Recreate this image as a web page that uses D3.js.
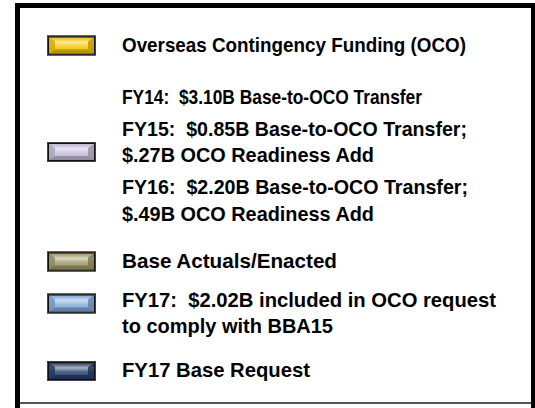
<!DOCTYPE html>
<html>
<head>
<meta charset="utf-8">
<script src="https://cdn.jsdelivr.net/npm/d3@7"></script>
<style>
  html, body { margin: 0; padding: 0; background: #fff; }
  svg { display: block; }
  text { font-family: "Liberation Sans", Arial, sans-serif; font-weight: bold; white-space: pre; }
</style>
</head>
<body>
<div id="chart"></div>
<script>
// legend entries, one group per swatch
var groupNames = ['oco', 'transfers', 'base', 'bba15', 'baseRequest'];
var groupColors = ['#f4c800', '#c6bedb', '#a29b66', '#84acdc', '#22406b'];
var groupLabels = [
    [['Overseas Contingency Funding (OCO)']],
    [['FY14:  $3.10B Base-to-OCO Transfer'],
     ['FY15:  $0.85B Base-to-OCO Transfer;', '$.27B OCO Readiness Add'],
     ['FY16:  $2.20B Base-to-OCO Transfer;', '$.49B OCO Readiness Add']],
    [['Base Actuals/Enacted']],
    [['FY17:  $2.02B included in OCO request', 'to comply with BBA15']],
    [['FY17 Base Request']]
];

// set width of each printed line (px), in reading order
var lineWidths = [344, 300, 345, 252, 346, 252, 215, 374, 211, 188];

var attrs = {
    svgWidth: 535,
    svgHeight: 408,
    textX: 122,
    swatchX: 47,
    swatchW: 49,
    swatchH: 20,
    fontSize: 20.5,
    lineH: 26.5,
    paraGap: 5.5,
    firstBaseline: 51.5,
    groupGaps: [0, 52, 47, 39, 44]
};

var svg = d3.select('#chart').append('svg')
    .attr('width', attrs.svgWidth)
    .attr('height', attrs.svgHeight);

var defs = svg.append('defs');

// frame
svg.append('rect').attr('x', 15).attr('y', 3).attr('width', 520).attr('height', 5).attr('fill', '#000');
svg.append('rect').attr('x', 15).attr('y', 3).attr('width', 5).attr('height', 405).attr('fill', '#000');
svg.append('rect').attr('x', 531).attr('y', 3).attr('width', 4).attr('height', 405).attr('fill', '#000');
svg.append('rect').attr('x', 20).attr('y', 402).attr('width', 511).attr('height', 2).attr('fill', '#555');

// lay out lines
var rows = [];
var swatchCenters = [];
var y = attrs.firstBaseline;
groupLabels.forEach(function (paras, gi) {
    y += attrs.groupGaps[gi];
    var first = y, last = y, nLines = 0;
    paras.forEach(function (lines, pi) {
        if (pi > 0) y += attrs.lineH + attrs.paraGap;
        lines.forEach(function (line, li) {
            if (li > 0) y += attrs.lineH;
            rows.push({ text: line, y: y, group: gi });
            last = y;
            nLines++;
        });
    });
    var c;
    if (paras.length > 1) c = (first + last) / 2 - 10;
    else if (nLines > 1) c = first - 3;
    else c = first - 6;
    swatchCenters.push(c);
});

svg.append('g').selectAll('text')
    .data(rows)
    .enter()
    .append('text')
    .attr('x', attrs.textX)
    .attr('y', function (d) { return d.y; })
    .attr('font-size', attrs.fontSize)
    .attr('fill', '#000')
    .attr('textLength', function (d, i) { return lineWidths[i]; })
    .attr('lengthAdjust', 'spacingAndGlyphs')
    .text(function (d) { return d.text; });

// bevelled swatches
function shade(c, k) {
    return k > 0 ? d3.interpolateRgb(c, '#fff')(k) : d3.interpolateRgb(c, '#000')(-k);
}

groupColors.forEach(function (c, i) {
    var g = defs.append('linearGradient').attr('id', 'grad' + i)
        .attr('x1', 0).attr('y1', 0).attr('x2', 0).attr('y2', 1);
    g.append('stop').attr('offset', '0%').attr('stop-color', shade(c, -0.05));
    g.append('stop').attr('offset', '30%').attr('stop-color', shade(c, 0.6));
    g.append('stop').attr('offset', '55%').attr('stop-color', shade(c, 0.2));
    g.append('stop').attr('offset', '100%').attr('stop-color', shade(c, -0.1));
});

var sw = svg.append('g').selectAll('g')
    .data(groupColors)
    .enter()
    .append('g')
    .attr('transform', function (d, i) {
        return 'translate(' + attrs.swatchX + ',' + (swatchCenters[i] - attrs.swatchH / 2) + ')';
    });

var W = attrs.swatchW, H = attrs.swatchH, b = 2, bx = 6, by = 4;

sw.append('rect')
    .attr('width', W).attr('height', H)
    .attr('fill', '#111');

sw.append('rect')
    .attr('x', b).attr('y', b).attr('width', W - 2 * b).attr('height', H - 2 * b)
    .attr('fill', function (d, i) { return 'url(#grad' + i + ')'; });

// bevel sides
sw.append('polygon')
    .attr('points', [[b, b], [b + bx, b + by], [b + bx, H - b - by], [b, H - b]].join(' '))
    .attr('fill', function (d) { return shade(d, -0.15); })
    .attr('opacity', 0.8);
sw.append('polygon')
    .attr('points', [[W - b, b], [W - b - bx, b + by], [W - b - bx, H - b - by], [W - b, H - b]].join(' '))
    .attr('fill', function (d) { return shade(d, -0.25); })
    .attr('opacity', 0.8);
sw.append('polygon')
    .attr('points', [[b, H - b], [b + bx, H - b - by], [W - b - bx, H - b - by], [W - b, H - b]].join(' '))
    .attr('fill', function (d) { return shade(d, -0.3); })
    .attr('opacity', 0.8);
sw.append('rect')
    .attr('x', 0.5).attr('y', 0.5).attr('width', W - 1).attr('height', H - 1)
    .attr('fill', 'none').attr('stroke', '#444').attr('stroke-width', 1);
</script>
</body>
</html>
